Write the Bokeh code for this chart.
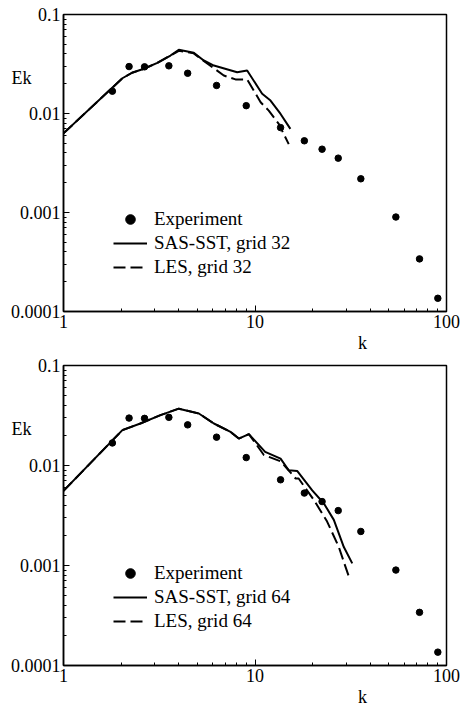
import numpy as np
from bokeh.plotting import figure
from bokeh.layouts import column
from bokeh.models import (Legend, LegendItem, Label, FixedTicker,
                          CustomJSTickFormatter, Range1d)
from bokeh.embed import file_html
from bokeh.resources import INLINE

# ---------------- data ----------------
k_exp = [1.8, 2.2, 2.65, 3.55, 4.45, 6.3, 9.0, 13.6, 18.1, 22.4, 27.2, 35.7, 54.4, 72.3, 90.1]
E_exp = [0.0168, 0.0298, 0.0296, 0.0303, 0.0255, 0.0192, 0.0120, 0.0072, 0.0053,
         0.00436, 0.00354, 0.00219, 0.00090, 0.00034, 0.000136]

k_sas32 = [1.0, 2.03, 2.28, 2.63, 3.09, 3.62, 4.0, 4.79, 5.40, 6.10, 8.07, 9.10, 10.9, 12.05, 13.6, 15.3]
E_sas32 = [0.0063, 0.0227, 0.0258, 0.0283, 0.0325, 0.0385, 0.044, 0.041, 0.0343, 0.0305,
           0.0261, 0.0272, 0.0158, 0.0135, 0.0099, 0.0070]

k_les32 = [1.0, 2.03, 2.28, 2.63, 3.09, 3.62, 4.0, 4.79, 5.40, 6.87, 7.91, 9.10, 10.7, 11.8, 13.3, 15.0]
E_les32 = [0.0063, 0.0227, 0.0258, 0.0283, 0.0325, 0.0385, 0.043, 0.0405, 0.0340, 0.0242,
           0.0221, 0.0221, 0.0130, 0.0107, 0.00787, 0.00490]

k_sas64 = [1.0, 2.03, 2.52, 3.21, 4.0, 5.09, 6.10, 7.45, 8.23, 9.29, 11.3, 13.6, 15.0, 16.6,
           19.9, 22.9, 25.8, 29.1, 32.2]
E_sas64 = [0.00557, 0.0226, 0.0263, 0.0319, 0.0370, 0.0331, 0.0263, 0.0217, 0.0186, 0.0206,
           0.0137, 0.0117, 0.00897, 0.00883, 0.00564, 0.00417, 0.00286, 0.00153, 0.00105]

k_les64 = [1.0, 2.03, 2.52, 3.21, 4.0, 5.09, 6.10, 7.45, 8.23, 9.29, 11.1, 13.6, 14.7, 16.3,
           16.9, 20.3, 23.8, 27.4, 31.3]
E_les64 = [0.00557, 0.0226, 0.0263, 0.0319, 0.0370, 0.0331, 0.0263, 0.0217, 0.0186, 0.0206,
           0.0128, 0.0110, 0.00933, 0.00741, 0.00741, 0.00452, 0.00275, 0.00153, 0.00072]

x_ticks = [1, 10, 100]
y_ticks = [0.0001, 0.001, 0.01, 0.1]
labels_32 = ["Experiment", "SAS-SST, grid 32", "LES, grid 32"]
labels_64 = ["Experiment", "SAS-SST, grid 64", "LES, grid 64"]
y_label = "Ek"
x_label = "k"

FONT = "Liberation Serif"


def minor(decade_ticks):
    out = []
    for t in decade_ticks[:-1]:
        out += [m * t for m in range(2, 10)]
    return out


fmt = CustomJSTickFormatter(code="return Number(tick.toPrecision(1)).toString();")


def panel(ks, Es, kl, El, labels, top_b, frame_h, bot_b):
    p = figure(width=466, height=top_b + frame_h + bot_b,
               frame_width=383, frame_height=frame_h,
               x_axis_type="log", y_axis_type="log",
               x_range=Range1d(1, 100), y_range=Range1d(0.0001, 0.1),
               output_backend="svg", toolbar_location=None,
               min_border_left=63, min_border_right=20,
               min_border_top=top_b, min_border_bottom=bot_b)
    p.xgrid.visible = False
    p.ygrid.visible = False
    p.outline_line_color = "black"
    p.outline_line_width = 1.5
    p.background_fill_color = "white"
    p.border_fill_color = "white"

    p.xaxis.ticker = FixedTicker(ticks=x_ticks, minor_ticks=minor(x_ticks))
    p.yaxis.ticker = FixedTicker(ticks=y_ticks, minor_ticks=minor(y_ticks))
    for ax in (p.xaxis[0], p.yaxis[0]):
        ax.formatter = fmt
        ax.major_tick_in = 6
        ax.major_tick_out = 0
        ax.minor_tick_in = 3
        ax.minor_tick_out = 0
        ax.axis_line_width = 1.5
        ax.major_label_text_font = FONT
        ax.major_label_text_font_size = "18px"
        ax.major_label_text_color = "black"
        ax.major_label_standoff = 3

    r_exp = p.scatter(k_exp, E_exp, size=6.5, color="black", marker="circle")
    r_sas = p.line(ks, Es, line_color="black", line_width=2)
    r_les = p.line(kl, El, line_color="black", line_width=2, line_dash="12 5")

    legend = Legend(items=[LegendItem(label=labels[0], renderers=[r_exp]),
                           LegendItem(label=labels[1], renderers=[r_sas]),
                           LegendItem(label=labels[2], renderers=[r_les])],
                    location=(50, 32), glyph_width=34, glyph_height=24,
                    label_height=24, label_standoff=7, spacing=0, padding=0,
                    margin=0, border_line_color=None, background_fill_alpha=0,
                    label_text_font=FONT, label_text_font_size="19px",
                    label_text_color="black")
    p.add_layout(legend)

    # axis titles: labels placed in side panels so that the frame does not clip them
    p.add_layout(Label(x=0.604, y=0.0231, text=y_label, text_color="black",
                       text_font=FONT, text_font_size="18px", text_align="center",
                       text_baseline="middle"), "right")
    p.add_layout(Label(x=36.4, y=4.85e-5, text=x_label, text_color="black",
                       text_font=FONT, text_font_size="18px", text_align="center",
                       text_baseline="middle"), "below")
    return p


p1 = panel(k_sas32, E_sas32, k_les32, E_les32, labels_32, 14, 297, 40)
p2 = panel(k_sas64, E_sas64, k_les64, E_les64, labels_64, 14, 300, 38)
layout = column(p1, p2, spacing=0)

open("out.html", "w").write(file_html(layout, INLINE))
